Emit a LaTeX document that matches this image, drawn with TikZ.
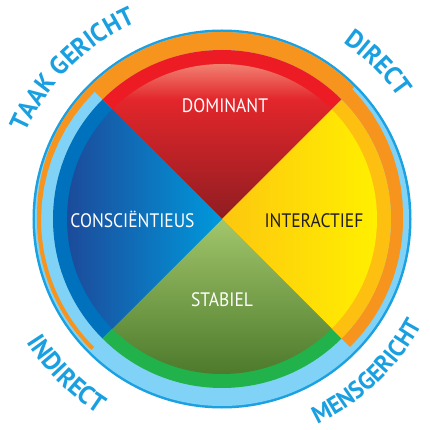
\documentclass[tikz,border=0pt]{standalone}
\usepackage{fontspec}
\setmainfont{PT Sans}
\newfontfamily\quadfont[FakeStretch=0.9]{PT Sans}
\newfontfamily\axisfont[FakeStretch=0.95]{PT Sans}
\usetikzlibrary{decorations.text}
\definecolor{ringblue}{HTML}{1BA1E2}
\definecolor{lightblue}{HTML}{80D3F6}
\definecolor{orangeband}{HTML}{F7941D}
\definecolor{redband}{HTML}{ED1C24}
\definecolor{goldband}{HTML}{FDC010}
\definecolor{greenband}{HTML}{21B24B}
\definecolor{blueband}{HTML}{0071BC}
\definecolor{labelblue}{HTML}{1AA0E0}
\definecolor{domsalmon}{HTML}{F38C7A}
\definecolor{domred}{HTML}{E3262B}
\definecolor{domdark}{HTML}{8F1D21}
\definecolor{intin}{HTML}{FDC70F}
\definecolor{intout}{HTML}{FFF000}
\definecolor{stain}{HTML}{A2C66B}
\definecolor{staout}{HTML}{4C7A2B}
\definecolor{conout}{HTML}{1C4A9A}
\definecolor{conin}{HTML}{0099DC}
\definecolor{intdark}{HTML}{231F20}
\tikzset{
  quadtext/.style={anchor=base, inner sep=0pt, font=\quadfont\fontsize{19.5}{19.5}\selectfont},
  axislabel/.style={decorate, decoration={text along path, text align=center, text color=labelblue}}
}
\begin{document}
\begin{tikzpicture}[x=1pt,y=1pt]
\useasboundingbox (-222,-211) rectangle (207,219);
% outer rings
\fill[ringblue] (0,0) circle (189.5);
\fill[lightblue] (0,0) circle (187);
\fill[orangeband]
  (-45:169) -- (-45:181)
  arc[start angle=-45, end angle=0, radius=181]
  -- plot[domain=0:45, samples=10] (\x:{181+3*\x/45})
  -- (45:187)
  arc[start angle=45, end angle=150, radius=187]
  -- plot[domain=150:180, samples=10] (\x:{187-2*(\x-150)/30})
  arc[start angle=180, end angle=225, radius=185]
  -- (225:181)
  arc[start angle=225, end angle=180, radius=181]
  -- plot[domain=180:135, samples=10] (\x:{181-(180-\x)/45})
  -- (135:169)
  arc[start angle=135, end angle=-45, radius=169]
  -- cycle;
% inner bands
\fill[redband] (0,0) -- (45:169) arc[start angle=45, end angle=135, radius=169] -- cycle;
\fill[blueband] (0,0) -- (135:169) arc[start angle=135, end angle=225, radius=169] -- cycle;
\fill[greenband] (0,0) -- (225:169) arc[start angle=225, end angle=315, radius=169] -- cycle;
\fill[goldband] (0,0) -- (-45:169) arc[start angle=-45, end angle=45, radius=169] -- cycle;
% pie quadrants
\begin{scope}
  \clip (0,0) -- (45:155) arc[start angle=45, end angle=135, radius=155] -- cycle;
  \shade[bottom color=domdark, top color=domred] (-160,0) rectangle (160,120);
  \shade[bottom color=domred, top color=domsalmon] (-160,119.5) rectangle (160,160);
\end{scope}
\begin{scope}
  \clip (0,0) -- (-45:155) arc[start angle=-45, end angle=45, radius=155] -- cycle;
  \shade[left color=intin, right color=intout] (0,-160) rectangle (156,160);
\end{scope}
\begin{scope}
  \clip (0,0) -- (225:155) arc[start angle=225, end angle=315, radius=155] -- cycle;
  \shade[top color=stain, bottom color=staout] (-160,0) rectangle (160,-156);
\end{scope}
\begin{scope}
  \clip (0,0) -- (135:155) arc[start angle=135, end angle=225, radius=155] -- cycle;
  \shade[left color=conout, right color=conin] (-156,-160) rectangle (0,160);
\end{scope}
% quadrant labels
\node[quadtext, text=white] (dom) at (3,106) {DOMINANT};
\node[quadtext, text=white] (con) at (-89.5,-9) {CONSCIËNTIEUS};
\node[quadtext, text=intdark] (int) at (92,-9) {INTERACTIEF};
\node[quadtext, text=white] (sta) at (0,-88) {STABIEL};
% axis labels
\path[axislabel, decoration={text={|\axisfont\bfseries\fontsize{26}{26}\selectfont|TAAK GERICHT}}]
  (180:214) arc[start angle=180, end angle=90, radius=214];
\path[axislabel, decoration={text={|\axisfont\bfseries\fontsize{26}{26}\selectfont|DIRECT}}]
  (90:214) arc[start angle=90, end angle=0, radius=214];
\path[axislabel, decoration={text={|\axisfont\bfseries\fontsize{26}{26}\selectfont|INDIRECT}}]
  (180:231) arc[start angle=180, end angle=270, radius=231];
\path[axislabel, decoration={text={|\axisfont\bfseries\fontsize{24.5}{24.5}\selectfont|MENSGERICHT}}]
  (268.5:226) arc[start angle=268.5, end angle=358.5, radius=226];
\end{tikzpicture}
\end{document}
